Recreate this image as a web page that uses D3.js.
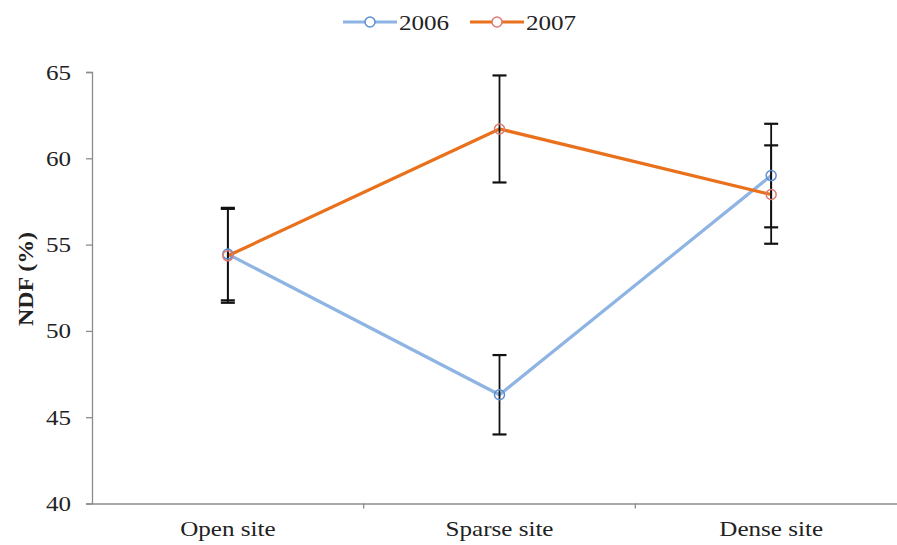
<!DOCTYPE html>
<html>
<head>
<meta charset="utf-8">
<script src="https://d3js.org/d3.v7.min.js"></script>
<style>
body { margin: 0; background: #fff; }
text { font-family: "Liberation Serif", "Times New Roman", serif; fill: #222; }
</style>
</head>
<body>
<div id="chart"></div>
<script>
// data
var sites = ["Open site", "Sparse site", "Dense site"];
var years = ["2006", "2007"];
var ndf2006 = [54.45, 46.3, 59.0];
var ndf2007 = [54.35, 61.7, 57.9];
var err2006 = [2.68, 2.3, 3.0];
var err2007 = [2.72, 3.1, 2.85];
var yTicks = [40, 45, 50, 55, 60, 65];

var width = 897, height = 545;
var colors = { "2006": "#8eb4e3", "2007": "#e9711c" };
var markerColors = { "2006": "#5b8fd4", "2007": "#de7a72" };

var svg = d3.select("#chart").append("svg")
  .attr("width", width)
  .attr("height", height);

// the original text is a bit wider than plain Times
function stretch(sel) {
  sel.each(function() {
    var len = this.getComputedTextLength();
    d3.select(this)
      .attr("textLength", len * 1.14)
      .attr("lengthAdjust", "spacingAndGlyphs");
  });
}

// scales
var x = d3.scaleBand()
  .domain(sites)
  .range([92, 907]);
var y = d3.scaleLinear()
  .domain([40, 65])
  .range([503.5, 72]);

// y axis
var yAxis = svg.append("g")
  .attr("transform", "translate(92,0)")
  .call(d3.axisLeft(y).tickValues(yTicks).tickSize(6).tickPadding(15));
yAxis.selectAll("path, line").attr("stroke", "#8c8c8c").attr("stroke-width", 1.3);
yAxis.selectAll("text").style("font-size", "22px").attr("fill", "#333").call(stretch);

// x axis
var xAxis = svg.append("g")
  .attr("transform", "translate(0,503.5)")
  .call(d3.axisBottom(x).tickSize(0).tickPadding(17));
xAxis.select("path").attr("stroke", "#8c8c8c").attr("stroke-width", 1.3);
xAxis.selectAll("text").style("font-size", "22px").attr("fill", "#222").call(stretch);
// category separators
xAxis.selectAll(".sep")
  .data(sites.slice(1))
  .enter().append("line")
  .attr("x1", d => x(d)).attr("x2", d => x(d))
  .attr("y1", 0).attr("y2", 5)
  .attr("stroke", "#8c8c8c").attr("stroke-width", 1.3);

// y title
svg.append("text")
  .attr("transform", "translate(33,279) rotate(-90)")
  .attr("text-anchor", "middle")
  .style("font-size", "21px")
  .style("font-weight", "bold")
  .text("NDF (%)")
  .call(stretch);

var series = [
  { year: "2006", values: ndf2006, errs: err2006 },
  { year: "2007", values: ndf2007, errs: err2007 }
];

var cx = d => x(d) + x.bandwidth() / 2;
var line = d3.line()
  .x((d, i) => cx(sites[i]))
  .y(d => y(d));

// lines
series.forEach(function(s) {
  svg.append("path")
    .datum(s.values)
    .attr("fill", "none")
    .attr("stroke", colors[s.year])
    .attr("stroke-width", 3.2)
    .attr("d", line);
});

// error bars
series.forEach(function(s) {
  var g = svg.append("g");
  s.values.forEach(function(v, i) {
    var px = cx(sites[i]);
    g.append("line")
      .attr("x1", px).attr("x2", px)
      .attr("y1", y(v + s.errs[i])).attr("y2", y(v - s.errs[i]))
      .attr("stroke", "#111").attr("stroke-width", 1.8);
    [v + s.errs[i], v - s.errs[i]].forEach(function(e) {
      g.append("line")
        .attr("x1", px - 7).attr("x2", px + 7)
        .attr("y1", y(e)).attr("y2", y(e))
        .attr("stroke", "#111").attr("stroke-width", 2.2);
    });
  });
});

// markers
series.forEach(function(s) {
  svg.append("g").selectAll("circle")
    .data(s.values)
    .enter().append("circle")
    .attr("cx", (d, i) => cx(sites[i]))
    .attr("cy", d => y(d))
    .attr("r", 5)
    .attr("fill", "none")
    .attr("stroke", markerColors[s.year])
    .attr("stroke-width", 1.5);
});

// legend
var legendX = { "2006": 343, "2007": 470 };
years.forEach(function(yr) {
  var g = svg.append("g").attr("transform", "translate(" + legendX[yr] + ",22)");
  g.append("line")
    .attr("x1", 0).attr("x2", 54)
    .attr("stroke", colors[yr]).attr("stroke-width", 3.2);
  g.append("circle")
    .attr("cx", 27).attr("r", 5)
    .attr("fill", "#fff")
    .attr("stroke", markerColors[yr]).attr("stroke-width", 1.5);
  g.append("text")
    .attr("x", 56).attr("dy", "0.35em")
    .style("font-size", "22px")
    .text(yr)
    .call(stretch);
});
</script>
</body>
</html>
